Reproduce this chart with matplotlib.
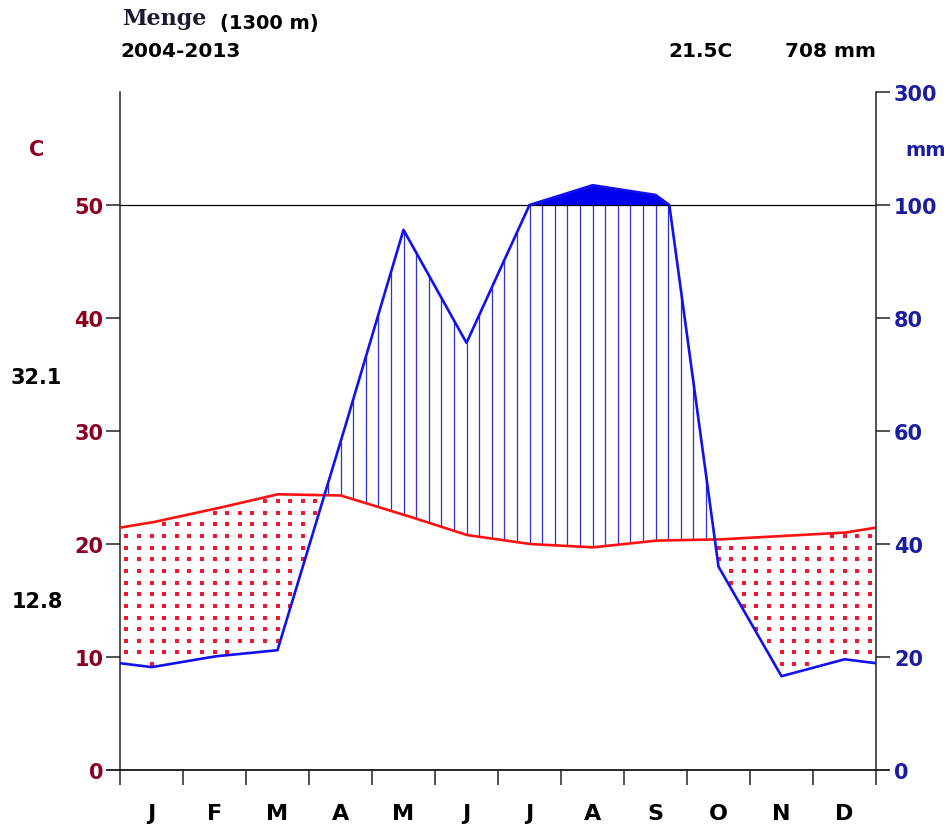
import numpy as np
import matplotlib
matplotlib.use('Agg')
import matplotlib.pyplot as plt

# ---------------- data ----------------
months = ['J', 'F', 'M', 'A', 'M', 'J', 'J', 'A', 'S', 'O', 'N', 'D']
temp_c = [21.9, 23.1, 24.4, 24.3, 22.6, 20.8, 20.0, 19.7, 20.3, 20.4, 20.7, 21.0]
precip_mm = [18.2, 20.1, 21.2, 58.0, 95.6, 75.6, 100.0, 135.0, 118.0, 36.0, 16.6, 19.6]
left_ticks = [0, 10, 20, 30, 40, 50]
right_ticks = [0, 10, 20, 30, 40, 50, 60]
right_tick_labels = ['0', '20', '40', '60', '80', '100', '300']
station = 'Menge'
altitude = '(1300 m)'
period = '2004-2013'
mean_temp = '21.5C'
total_prec = '708 mm'
abs_max = '32.1'
abs_min = '12.8'

W, H = 950, 829
fig = plt.figure(figsize=(W / 100, H / 100), dpi=100)
ax = fig.add_axes([120 / W, 1 - 771 / H, 756 / W, 678 / H])

RED = '#ff1010'
BLUE = '#1010f0'
TCOL = '#8b0020'
PCOL = '#1c1ca0'


def scale_p(p):
    p = np.asarray(p, dtype=float)
    return np.where(p <= 100, p / 2.0, 50 + (p - 100) / 20.0)


x_pts = np.concatenate([[0], np.arange(12) + 0.5, [12]])
t_wrap = (temp_c[-1] + temp_c[0]) / 2
p_wrap = (precip_mm[-1] + precip_mm[0]) / 2
t_ext = np.concatenate([[t_wrap], temp_c, [t_wrap]])
p_ext = np.concatenate([[p_wrap], precip_mm, [p_wrap]])

xd = np.linspace(0, 12, 4801)
td = np.interp(xd, x_pts, t_ext)
pd_ = scale_p(np.interp(xd, x_pts, p_ext))

# solid fill above 100 mm
ax.fill_between(xd, 50, pd_, where=pd_ > 50, color='#0000ee', lw=0, zorder=2)

# humid hatching and dry dots
cols = 0.1 + 0.2 * np.arange(60)
dot_rows = np.arange(0.1, 60, 1.03)
dx, dy = [], []
for c in cols:
    t = np.interp(c, xd, td)
    p = np.interp(c, xd, pd_)
    top = min(p, 50)
    if top > t:
        ax.vlines(c, t, top, color='#3030d8', lw=0.9, zorder=1)
    elif p < t:
        sel = dot_rows[(dot_rows > p + 0.2) & (dot_rows < t - 0.2)]
        dx.extend([c] * len(sel))
        dy.extend(sel)
ax.scatter(dx, dy, s=5, marker='s', color='#ee1830', lw=0, zorder=1)

ax.axhline(50, color='black', lw=0.9, zorder=2)
ax.plot(xd, td, color=RED, lw=1.9, zorder=3)
ax.plot(xd, pd_, color=BLUE, lw=1.9, zorder=3)

ax.set_xlim(0, 12)
ax.set_ylim(0, 60)
for s in ['top', 'right']:
    ax.spines[s].set_visible(False)
for s in ['left', 'bottom']:
    ax.spines[s].set_linewidth(1.1)
    ax.spines[s].set_color('#222222')

ax.set_yticks(left_ticks)
ax.set_yticklabels([str(v) for v in left_ticks], color=TCOL, fontsize=15,
                   fontweight='bold', family='DejaVu Sans')
ax.tick_params(axis='y', direction='out', length=10, width=1.1, pad=2, color='#222222')

ax.set_xticks(range(13))
ax.set_xticklabels([])
ax.set_xticks(np.arange(12) + 0.5, minor=True)
ax.set_xticklabels(months, minor=True, fontsize=16, fontweight='bold', family='DejaVu Sans')
ax.tick_params(axis='x', which='major', direction='out', length=11, width=1.1, color='#222222')
ax.tick_params(axis='x', which='minor', length=0, pad=24)

ax2 = ax.twinx()
ax2.set_ylim(0, 60)
for s in ['top', 'left', 'bottom']:
    ax2.spines[s].set_visible(False)
ax2.spines['right'].set_linewidth(1.1)
ax2.spines['right'].set_color('#222222')
ax2.set_yticks(right_ticks)
ax2.set_yticklabels(right_tick_labels, color=PCOL, fontsize=15, fontweight='bold',
                    family='DejaVu Sans')
ax2.tick_params(axis='y', direction='out', length=10, width=1.1, pad=3, color='#222222')

# extend baseline slightly beyond spines
ax.plot([-0.2, 12.2], [0, 0], color='#222222', lw=1.1, clip_on=False, zorder=4)

# texts
fig.text(122 / W, 1 - 25 / H, station, fontsize=16, fontweight='bold', family='DejaVu Serif',
         color='#1a1a30', va='baseline')
fig.text(220 / W, 1 - 29 / H, altitude, fontsize=14, fontweight='bold', family='DejaVu Sans',
         va='baseline')
fig.text(120 / W, 1 - 57 / H, period, fontsize=14.5, fontweight='bold', family='DejaVu Sans',
         va='baseline')
fig.text(668 / W, 1 - 57 / H, mean_temp, fontsize=14.5, fontweight='bold', family='DejaVu Sans',
         va='baseline')
fig.text(785 / W, 1 - 57 / H, total_prec, fontsize=14.5, fontweight='bold', family='DejaVu Sans',
         va='baseline')
fig.text(37 / W, 1 - 150 / H, 'C', fontsize=15, fontweight='bold', family='DejaVu Sans',
         color=TCOL, ha='center', va='center')
fig.text(36 / W, 1 - 378 / H, abs_max, fontsize=15, fontweight='bold', family='DejaVu Sans',
         ha='center', va='center')
fig.text(37 / W, 1 - 602 / H, abs_min, fontsize=15, fontweight='bold', family='DejaVu Sans',
         ha='center', va='center')
fig.text(946 / W, 1 - 150 / H, 'mm', fontsize=14, fontweight='bold', family='DejaVu Sans',
         color=PCOL, ha='right', va='center')

fig.savefig('out.png', dpi=100)
